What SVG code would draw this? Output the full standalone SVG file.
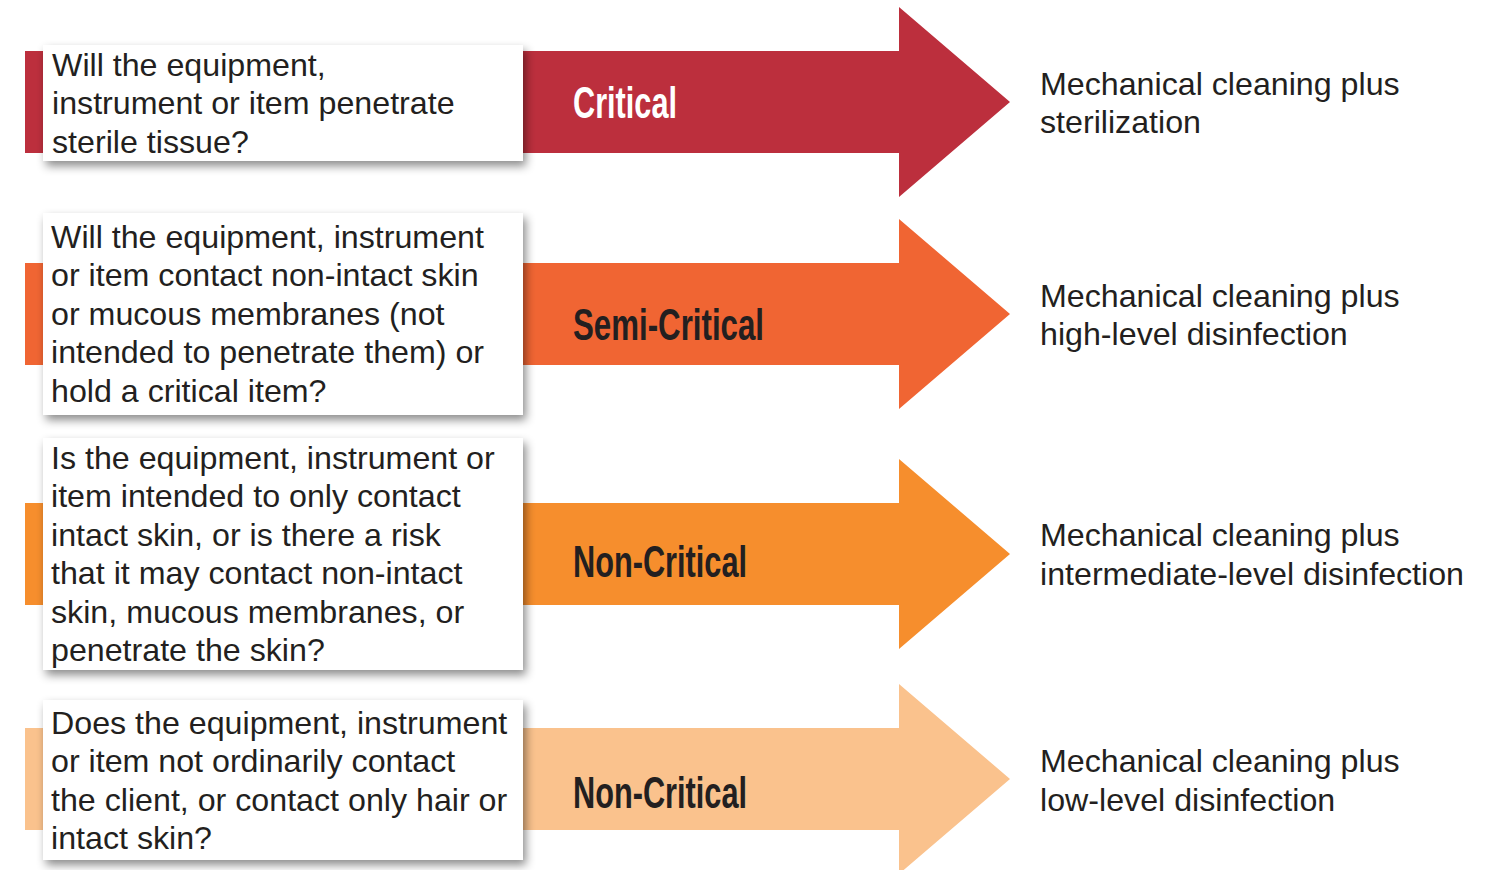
<svg xmlns="http://www.w3.org/2000/svg" width="1495" height="870" viewBox="0 0 1495 870">
<defs>
<filter id="sh" x="-10%" y="-20%" width="125%" height="150%">
<feDropShadow dx="3" dy="5" stdDeviation="5" flood-color="#000" flood-opacity="0.45"/>
</filter>
<style>
.box{fill:#fff;filter:url(#sh)}
.q{font-family:"Liberation Sans",Arial,sans-serif;font-size:32.2px;fill:#231f20}
.r{font-family:"Liberation Sans",Arial,sans-serif;font-size:32.2px;fill:#231f20}
.lbl{font-family:"Liberation Sans Narrow","Liberation Sans",Arial,sans-serif;font-weight:bold;font-size:45px;fill:#231f20}
</style>
</defs>
<rect width="1495" height="870" fill="#fff"/>
<g id="connectors">
<path id="arrow-critical" d="M25,51 H899 V7 L1010,102 L899,197 V153 H25 Z" fill="#bc2f3d"/>
<path id="arrow-semi" d="M25,263 H899 V219 L1010,314 L899,409 V365 H25 Z" fill="#f06533"/>
<path id="arrow-non1" d="M25,503 H899 V459 L1010,554 L899,649 V605 H25 Z" fill="#f68e2d"/>
<path id="arrow-non2" d="M25,728 H899 V684 L1010,779 L899,874 V830 H25 Z" fill="#fac28d"/>
</g>
<g id="label-critical"><text class="lbl" x="573" y="118" textLength="104" lengthAdjust="spacingAndGlyphs" style="fill:#fff">Critical</text></g>
<g id="label-semi"><text class="lbl" x="573" y="340" textLength="191" lengthAdjust="spacingAndGlyphs">Semi-Critical</text></g>
<g id="label-non1"><text class="lbl" x="573" y="577" textLength="174" lengthAdjust="spacingAndGlyphs">Non-Critical</text></g>
<g id="label-non2"><text class="lbl" x="573" y="808" textLength="174" lengthAdjust="spacingAndGlyphs">Non-Critical</text></g>
<g id="q1">
<rect class="box" x="43" y="45" width="480" height="116"/>
<text class="q"><tspan x="52" y="76">Will the equipment,</tspan><tspan x="52" y="114">instrument or item penetrate</tspan><tspan x="52" y="153">sterile tissue?</tspan></text>
</g>
<g id="q2">
<rect class="box" x="43" y="213" width="480" height="202"/>
<text class="q"><tspan x="51" y="248">Will the equipment, instrument</tspan><tspan x="51" y="286">or item contact non-intact skin</tspan><tspan x="51" y="325">or mucous membranes (not</tspan><tspan x="51" y="363">intended to penetrate them) or</tspan><tspan x="51" y="402">hold a critical item?</tspan></text>
</g>
<g id="q3">
<rect class="box" x="43" y="438" width="480" height="232"/>
<text class="q"><tspan x="51" y="469">Is the equipment, instrument or</tspan><tspan x="51" y="507">item intended to only contact</tspan><tspan x="51" y="546">intact skin, or is there a risk</tspan><tspan x="51" y="584">that it may contact non-intact</tspan><tspan x="51" y="623">skin, mucous membranes, or</tspan><tspan x="51" y="661">penetrate the skin?</tspan></text>
</g>
<g id="q4">
<rect class="box" x="43" y="700" width="480" height="160"/>
<text class="q"><tspan x="51" y="734">Does the equipment, instrument</tspan><tspan x="51" y="772">or item not ordinarily contact</tspan><tspan x="51" y="811">the client, or contact only hair or</tspan><tspan x="51" y="849">intact skin?</tspan></text>
</g>
<g id="r1"><text class="r"><tspan x="1040" y="95">Mechanical cleaning plus</tspan><tspan x="1040" y="133">sterilization</tspan></text></g>
<g id="r2"><text class="r"><tspan x="1040" y="307">Mechanical cleaning plus</tspan><tspan x="1040" y="345">high-level disinfection</tspan></text></g>
<g id="r3"><text class="r"><tspan x="1040" y="546">Mechanical cleaning plus</tspan><tspan x="1040" y="585">intermediate-level disinfection</tspan></text></g>
<g id="r4"><text class="r"><tspan x="1040" y="772">Mechanical cleaning plus</tspan><tspan x="1040" y="811">low-level disinfection</tspan></text></g>
</svg>
